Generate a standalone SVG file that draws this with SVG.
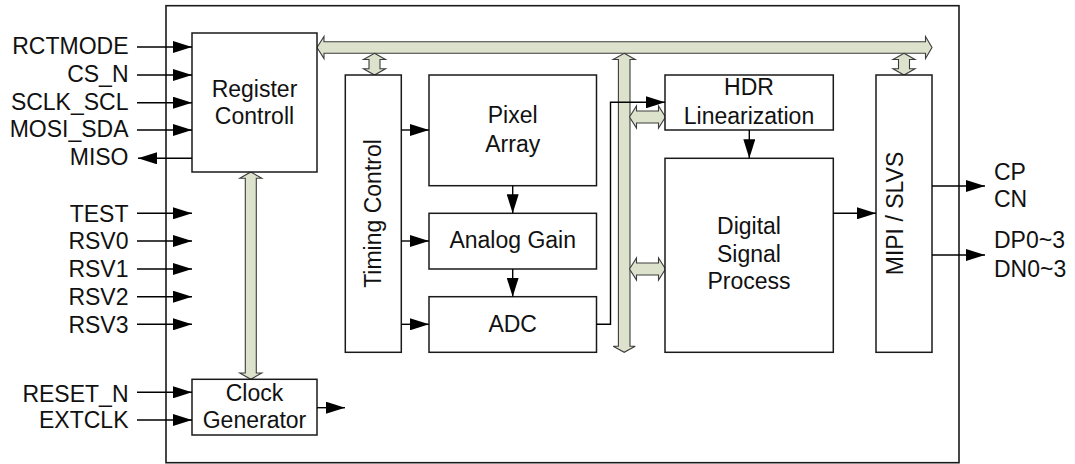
<svg xmlns="http://www.w3.org/2000/svg" width="1075" height="464" viewBox="0 0 1075 464">
<defs>
<style>
.box{fill:#fff;stroke:#1a1a1a;stroke-width:1.5}
.t{font-family:"Liberation Sans",Arial,sans-serif;font-size:23px;fill:#111}
.m{text-anchor:middle}
.r{text-anchor:end}
.ln{fill:none;stroke:#000;stroke-width:1.4}
.bus{fill:#dde2cc;stroke:#3c3c3c;stroke-width:1.1}
</style>
<marker id="ah" markerUnits="userSpaceOnUse" markerWidth="19" markerHeight="12" refX="19" refY="6" orient="auto">
<path d="M0,0 L19,6 L0,12 z" fill="#000"/>
</marker>
</defs>
<rect width="1075" height="464" fill="#fff"/>
<rect id="chip" x="166" y="5.7" width="793" height="457" fill="none" stroke="#1a1a1a" stroke-width="1.6"/>

<g id="buses">
<polygon class="bus" points="317,47.5 324,36.5 324,41.7 925.5,41.7 925.5,36.5 932,47.5 925.5,58.5 925.5,53.3 324,53.3 324,58.5"/>
<polygon class="bus" points="624.2,53.3 635.2,59.5 630,59.5 630,346.3 635.2,346.3 624.2,352.3 613.2,346.3 618.4,346.3 618.4,59.5 613.2,59.5"/>
<polygon class="bus" points="374.5,53.3 385.5,59.5 380,59.5 380,68.8 385.5,68.8 374.5,75 363.5,68.8 369,68.8 369,59.5 363.5,59.5"/>
<polygon class="bus" points="904,53.3 915,59.5 909.5,59.5 909.5,68.8 915,68.8 904,75 893,68.8 898.5,68.8 898.5,59.5 893,59.5"/>
<polygon class="bus" points="250.8,172 261.8,178.3 256.3,178.3 256.3,373 261.8,373 250.8,379.3 239.8,373 245.3,373 245.3,178.3 239.8,178.3"/>
<polygon class="bus" points="629.5,117 636.5,106 636.5,111 658.5,111 658.5,106 665.5,117 658.5,128 658.5,123 636.5,123 636.5,128"/>
<polygon class="bus" points="629.5,269 636.5,258 636.5,263 658.5,263 658.5,258 665.5,269 658.5,280 658.5,275 636.5,275 636.5,280"/>
</g>

<g id="reg">
<rect class="box" x="192" y="33" width="125" height="139"/>
<text class="t m" x="254.5" y="96.7">Register</text>
<text class="t m" x="254.5" y="124">Controll</text>
</g>
<g id="clk">
<rect class="box" x="192" y="379.3" width="125" height="55.7"/>
<text class="t m" x="254.5" y="400.7">Clock</text>
<text class="t m" x="254.5" y="428.3">Generator</text>
</g>
<g id="timing">
<rect class="box" x="345.3" y="75" width="56" height="277.3"/>
<text class="t m" transform="translate(381,213.5) rotate(-90)">Timing Control</text>
</g>
<g id="pixel">
<rect class="box" x="429" y="75" width="167.5" height="110.7"/>
<text class="t m" x="512.7" y="123.3">Pixel</text>
<text class="t m" x="512.7" y="151.7">Array</text>
</g>
<g id="gain">
<rect class="box" x="429" y="213.3" width="167.5" height="55.7"/>
<text class="t m" x="512.7" y="248.3">Analog Gain</text>
</g>
<g id="adc">
<rect class="box" x="429" y="296.7" width="167.5" height="55.6"/>
<text class="t m" x="512.7" y="331.7">ADC</text>
</g>
<g id="hdr">
<rect class="box" x="665" y="75" width="168.3" height="55"/>
<text class="t m" x="749" y="95">HDR</text>
<text class="t m" x="749" y="124">Linearization</text>
</g>
<g id="dsp">
<rect class="box" x="665" y="158.3" width="168.3" height="194"/>
<text class="t m" x="749" y="234">Digital</text>
<text class="t m" x="749" y="261.7">Signal</text>
<text class="t m" x="749" y="289.3">Process</text>
</g>
<g id="mipi">
<rect class="box" x="876" y="75" width="56" height="277.3"/>
<text class="t m" transform="translate(903.3,213.5) rotate(-90)">MIPI / SLVS</text>
</g>

<g id="connectors">
<line class="ln" x1="137" y1="47" x2="192" y2="47" marker-end="url(#ah)"/>
<line class="ln" x1="137" y1="75" x2="192" y2="75" marker-end="url(#ah)"/>
<line class="ln" x1="137" y1="102.7" x2="192" y2="102.7" marker-end="url(#ah)"/>
<line class="ln" x1="137" y1="130" x2="192" y2="130" marker-end="url(#ah)"/>
<line class="ln" x1="192" y1="158.3" x2="138" y2="158.3" marker-end="url(#ah)"/>
<line class="ln" x1="137" y1="213.3" x2="192" y2="213.3" marker-end="url(#ah)"/>
<line class="ln" x1="137" y1="241" x2="192" y2="241" marker-end="url(#ah)"/>
<line class="ln" x1="137" y1="269" x2="192" y2="269" marker-end="url(#ah)"/>
<line class="ln" x1="137" y1="296.7" x2="192" y2="296.7" marker-end="url(#ah)"/>
<line class="ln" x1="137" y1="324.3" x2="192" y2="324.3" marker-end="url(#ah)"/>
<line class="ln" x1="137" y1="392.3" x2="192" y2="392.3" marker-end="url(#ah)"/>
<line class="ln" x1="137" y1="420" x2="192" y2="420" marker-end="url(#ah)"/>
<line class="ln" x1="317" y1="407.7" x2="345" y2="407.7" marker-end="url(#ah)"/>
<line class="ln" x1="401.3" y1="130" x2="429" y2="130" marker-end="url(#ah)"/>
<line class="ln" x1="401.3" y1="241" x2="429" y2="241" marker-end="url(#ah)"/>
<line class="ln" x1="401.3" y1="324.3" x2="429" y2="324.3" marker-end="url(#ah)"/>
<line class="ln" x1="512.7" y1="185.7" x2="512.7" y2="213.3" marker-end="url(#ah)"/>
<line class="ln" x1="512.7" y1="269" x2="512.7" y2="296.7" marker-end="url(#ah)"/>
<path class="ln" d="M596.5,324.3 H610.5 V102.3 H665" marker-end="url(#ah)"/>
<line class="ln" x1="749.3" y1="130" x2="749.3" y2="158.3" marker-end="url(#ah)"/>
<line class="ln" x1="833.3" y1="213.3" x2="876" y2="213.3" marker-end="url(#ah)"/>
<line class="ln" x1="932" y1="186" x2="985" y2="186" marker-end="url(#ah)"/>
<line class="ln" x1="932" y1="255" x2="985" y2="255" marker-end="url(#ah)"/>
</g>

<g id="labels">
<text class="t r" x="128.5" y="54.3">RCTMODE</text>
<text class="t r" x="128.5" y="81.7">CS_N</text>
<text class="t r" x="128.5" y="110">SCLK_SCL</text>
<text class="t r" x="128.5" y="137.3">MOSI_SDA</text>
<text class="t r" x="128.5" y="165">MISO</text>
<text class="t r" x="128.5" y="221.7">TEST</text>
<text class="t r" x="128.5" y="249.3">RSV0</text>
<text class="t r" x="128.5" y="277.3">RSV1</text>
<text class="t r" x="128.5" y="305">RSV2</text>
<text class="t r" x="128.5" y="332.7">RSV3</text>
<text class="t r" x="128.5" y="401.7">RESET_N</text>
<text class="t r" x="128.5" y="428.3">EXTCLK</text>
<text class="t" x="994" y="180">CP</text>
<text class="t" x="994" y="207">CN</text>
<text class="t" x="994" y="248">DP0~3</text>
<text class="t" x="994" y="277">DN0~3</text>
</g>
</svg>
